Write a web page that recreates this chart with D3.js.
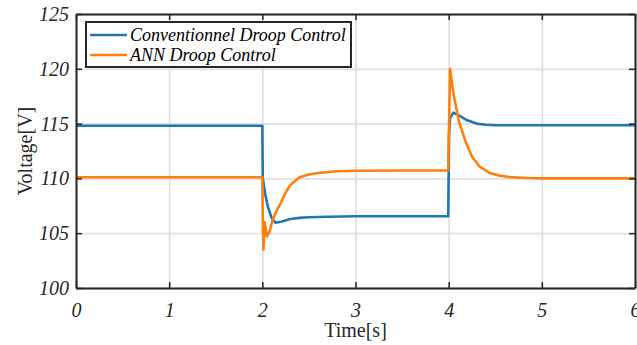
<!DOCTYPE html>
<html><head><meta charset="utf-8">
<script src="https://cdn.jsdelivr.net/npm/d3@7"></script>
<style>
html,body{margin:0;padding:0;background:#fff;}
svg{display:block;}
</style></head>
<body><svg id="c" width="637" height="345"></svg>
<script>
// ---- data ----
const xTicks = [0,1,2,3,4,5,6];
const yTicks = [100,105,110,115,120,125];
const seriesNames = ["Conventionnel Droop Control","ANN Droop Control"];
const convT = [0,1.995,2.0,2.005,2.03,2.06,2.1,2.14,2.2,2.3,2.4,2.5,2.7,3.0,3.5,3.995,4.0,4.005,4.015,4.05,4.1,4.2,4.3,4.4,4.5,5.0,6.0];
const convV = [114.8,114.8,114.8,110.0,108.6,107.4,106.4,105.95,106.05,106.3,106.4,106.45,106.5,106.55,106.55,106.55,110.5,114.2,115.5,116.0,115.8,115.3,115.0,114.9,114.85,114.85,114.85];
const annT = [0,1.998,2.0,2.005,2.012,2.025,2.05,2.08,2.11,2.15,2.2,2.25,2.3,2.4,2.5,2.6,2.8,3.0,3.5,3.995,4.015,4.05,4.11,4.18,4.25,4.33,4.44,4.55,4.65,4.85,5.0,6.0];
const annV = [110.1,110.1,110.1,106.0,103.5,106.0,104.7,105.2,106.2,107.0,107.8,108.7,109.4,110.1,110.35,110.5,110.65,110.7,110.72,110.72,120.0,117.8,115.2,113.4,112.0,111.1,110.5,110.25,110.12,110.03,110.0,110.0];
const colors = ["#1f77b4","#ff7f0e"];

// ---- layout ----
const W = 637, H = 345;
const m = {left:76, right:2, top:14, bottom:57};
const iw = W - m.left - m.right, ih = H - m.top - m.bottom;
const svg = d3.select("#c");
const g = svg.append("g").attr("transform",`translate(${m.left},${m.top})`);
const x = d3.scaleLinear().domain([0,6]).range([0,iw]);
const y = d3.scaleLinear().domain([100,125]).range([ih,0]);
const serif = "Liberation Serif";

// grid
g.append("g").attr("transform",`translate(0,${ih})`)
  .call(d3.axisBottom(x).tickValues(xTicks).tickSize(-ih).tickFormat(""))
  .call(s=>{s.select(".domain").remove(); s.selectAll("line").attr("stroke","#e0e0e0").attr("stroke-width",1.8);});
g.append("g")
  .call(d3.axisLeft(y).tickValues(yTicks).tickSize(-iw).tickFormat(""))
  .call(s=>{s.select(".domain").remove(); s.selectAll("line").attr("stroke","#e0e0e0").attr("stroke-width",1.8);});

// lines
g.append("clipPath").attr("id","clip").append("rect").attr("width",iw).attr("height",ih);
const line = d3.line().x(d=>x(d[0])).y(d=>y(d[1]));
const data = [d3.zip(convT,convV), d3.zip(annT,annV)];
const lg = g.append("g").attr("clip-path","url(#clip)");
data.forEach((d,i)=>{
  lg.append("path").datum(d).attr("d",line).attr("fill","none")
    .attr("stroke",colors[i]).attr("stroke-width",2.6).attr("stroke-linejoin","round");
});

// axes with inward ticks
function styleAxis(s){
  s.attr("font-family",serif);
  s.select(".domain").attr("stroke","#262626").attr("stroke-width",2);
  s.selectAll(".tick line").attr("stroke","#262626").attr("stroke-width",1.5);
  s.selectAll("text").attr("font-family",serif).attr("font-style","italic").attr("font-size",20).attr("fill","#262626");
}
g.append("g").attr("transform",`translate(0,${ih})`)
  .call(d3.axisBottom(x).tickValues(xTicks).tickSizeInner(-6).tickSizeOuter(0).tickPadding(15).tickFormat(d3.format("d")))
  .call(styleAxis);
g.append("g")
  .call(d3.axisTop(x).tickValues(xTicks).tickSizeInner(-6).tickSizeOuter(0).tickFormat(""))
  .call(styleAxis);
g.append("g")
  .call(d3.axisLeft(y).tickValues(yTicks).tickSizeInner(-6).tickSizeOuter(0).tickPadding(7).tickFormat(d3.format("d")))
  .call(styleAxis);
g.append("g").attr("transform",`translate(${iw},0)`)
  .call(d3.axisRight(y).tickValues(yTicks).tickSizeInner(-6).tickSizeOuter(0).tickFormat(""))
  .call(styleAxis);

// axis labels
svg.append("text").attr("x",m.left + x(3)).attr("y",337).attr("text-anchor","middle")
  .attr("font-family",serif).attr("font-size",20).attr("fill","#262626").text("Time[s]");
svg.append("text").attr("transform",`translate(25,${m.top+ih/2}) rotate(-90)`).attr("text-anchor","middle")
  .attr("dominant-baseline","central")
  .attr("font-family",serif).attr("font-size",20).attr("fill","#262626").text("Voltage[V]");

// legend
const leg = svg.append("g").attr("transform","translate(86,22)");
leg.append("rect").attr("width",265).attr("height",45).attr("fill","#fff")
  .attr("stroke","#262626").attr("stroke-width",2);
seriesNames.forEach((n,i)=>{
  const yy = 13 + i*20;
  leg.append("line").attr("x1",4).attr("x2",41).attr("y1",yy).attr("y2",yy)
    .attr("stroke",colors[i]).attr("stroke-width",2.6);
  leg.append("text").attr("x",44).attr("y",yy).attr("dominant-baseline","central")
    .attr("font-family",serif).attr("font-style","italic").attr("font-size",18).attr("fill","#000").text(n);
});
</script></body></html>
